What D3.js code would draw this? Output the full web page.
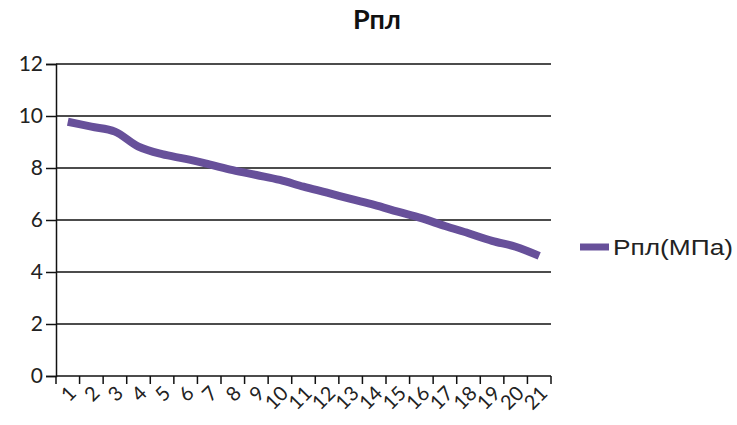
<!DOCTYPE html>
<html>
<head>
<meta charset="utf-8">
<script src="https://cdn.jsdelivr.net/npm/d3@7"></script>
<style>
  html, body { margin: 0; padding: 0; background: #fff; }
  svg { display: block; }
</style>
</head>
<body>
<svg id="chart" width="737" height="425"></svg>
<script>
// Reservoir pressure by step
const categories = ["1","2","3","4","5","6","7","8","9","10","11","12","13","14","15","16","17","18","19","20","21"];
const pressure = [9.78, 9.59, 9.40, 8.82, 8.53, 8.35, 8.14, 7.92, 7.73, 7.54, 7.28, 7.05, 6.81, 6.58, 6.32, 6.07, 5.77, 5.49, 5.20, 4.97, 4.62];
const yTicks = [0, 2, 4, 6, 8, 10, 12];
const seriesName = "Рпл(МПа)";
const titleText = "Рпл";

(function () {
const svg = d3.select("#chart");
const plotLeft = 56, plotRight = 551, plotTop = 64, plotBottom = 376;
const lineColor = "#67509a";

const x = d3.scaleBand().domain(categories).range([plotLeft, plotRight]).padding(0);
const y = d3.scaleLinear().domain([0, 12]).range([plotBottom, plotTop]);

// gridlines
svg.append("g")
  .selectAll("line")
  .data(yTicks.filter(d => d > 0))
  .join("line")
  .attr("x1", plotLeft).attr("x2", plotRight)
  .attr("y1", d => y(d)).attr("y2", d => y(d))
  .attr("stroke", "#111").attr("stroke-width", 1.5);

// y axis
const yAxis = svg.append("g")
  .attr("transform", `translate(${plotLeft},0)`)
  .call(d3.axisLeft(y).tickValues(yTicks).tickSize(10).tickPadding(3));
yAxis.select(".domain").attr("stroke", "#111").attr("stroke-width", 1.5);
yAxis.selectAll(".tick line").attr("stroke", "#111").attr("stroke-width", 1.5);
yAxis.selectAll("text")
  .attr("font-family", "Lato, 'Open Sans', sans-serif")
  .attr("font-size", 21)
  .attr("fill", "#222");

// x axis: ticks on category boundaries
const xg = svg.append("g").attr("transform", `translate(0,${plotBottom})`);
xg.append("line")
  .attr("x1", plotLeft).attr("x2", plotRight)
  .attr("stroke", "#111").attr("stroke-width", 1.5);
const boundaries = categories.map(c => x(c)).concat([plotRight]);
xg.selectAll("line.tk")
  .data(boundaries)
  .join("line")
  .attr("class", "tk")
  .attr("x1", d => d).attr("x2", d => d)
  .attr("y1", 0).attr("y2", 8)
  .attr("stroke", "#111").attr("stroke-width", 1.5);
xg.selectAll("text")
  .data(categories)
  .join("text")
  .attr("transform", d => `translate(${x(d) + x.bandwidth() / 2 - 1},${8}) rotate(-45)`)
  .attr("text-anchor", "end")
  .attr("dy", "0.75em")
  .attr("font-family", "Lato, 'Open Sans', sans-serif")
  .attr("font-size", 20)
  .attr("fill", "#222")
  .text(d => d);

// smoothed series line
const line = d3.line()
  .x((d, i) => x(categories[i]) + x.bandwidth() / 2)
  .y(d => y(d))
  .curve(d3.curveCatmullRom.alpha(0.5));
svg.append("path")
  .datum(pressure)
  .attr("d", line)
  .attr("fill", "none")
  .attr("stroke", lineColor)
  .attr("stroke-width", 8)
  .attr("stroke-linejoin", "round");

// title
svg.append("text")
  .attr("x", 377).attr("y", 29)
  .attr("text-anchor", "middle")
  .attr("font-family", "Lato, 'Open Sans', sans-serif")
  .attr("font-weight", "bold")
  .attr("font-size", 27)
  .attr("fill", "#111")
  .text(titleText);

// legend
const lg = svg.append("g").attr("transform", "translate(580,247)");
lg.append("line")
  .attr("x1", 0).attr("x2", 29)
  .attr("stroke", lineColor).attr("stroke-width", 7);
lg.append("text")
  .attr("x", 33).attr("y", 0).attr("dy", "0.36em")
  .attr("font-family", "'Liberation Sans', Arial, sans-serif")
  .attr("font-size", 22)
  .attr("textLength", 120)
  .attr("lengthAdjust", "spacingAndGlyphs")
  .attr("fill", "#222")
  .text(seriesName);
})();
</script>
</body>
</html>
